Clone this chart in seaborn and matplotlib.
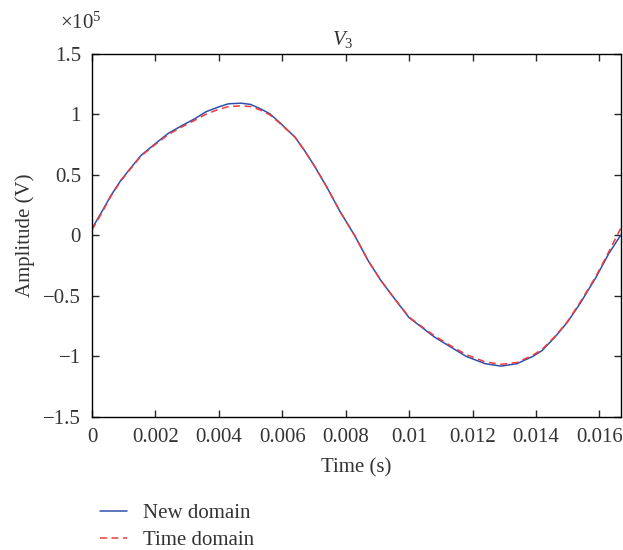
import numpy as np
import pandas as pd
import seaborn as sns
import matplotlib.pyplot as plt
from matplotlib.ticker import FuncFormatter, MultipleLocator

# values (time in s, amplitude in units of 1e5 V)
t = [0.0, 0.0003, 0.0006, 0.0009, 0.00125, 0.00155, 0.002, 0.0024, 0.0028, 0.00325,
     0.0036, 0.004, 0.0043, 0.0047, 0.005, 0.0053, 0.0056, 0.0059, 0.0064, 0.0067,
     0.007, 0.0074, 0.0078, 0.0083, 0.0087, 0.0091, 0.0095, 0.01, 0.0103, 0.0108,
     0.0113, 0.0118, 0.0124, 0.0129, 0.0134, 0.0139, 0.0142, 0.0146, 0.015, 0.0154,
     0.0159, 0.0163, 0.01667]
v_new = [0.055, 0.19, 0.33, 0.45, 0.565, 0.66, 0.757, 0.84, 0.9, 0.963,
         1.02, 1.06, 1.085, 1.09, 1.08, 1.045, 1.004, 0.935, 0.81, 0.7,
         0.578, 0.4, 0.206, -0.01, -0.206, -0.37, -0.51, -0.68, -0.74, -0.84,
         -0.92, -1.0, -1.06, -1.08, -1.06, -1.0, -0.95, -0.84, -0.715, -0.56,
         -0.344, -0.15, 0.0]
v_time = [0.045, 0.18, 0.325, 0.445, 0.56, 0.655, 0.75, 0.83, 0.89, 0.95,
          1.0, 1.04, 1.062, 1.068, 1.062, 1.035, 0.995, 0.93, 0.81, 0.7,
          0.578, 0.4, 0.206, -0.01, -0.206, -0.37, -0.51, -0.675, -0.735, -0.83,
          -0.91, -0.985, -1.045, -1.065, -1.05, -0.99, -0.94, -0.835, -0.71, -0.55,
          -0.335, -0.135, 0.055]

scale = 1e5
df = pd.DataFrame({
    "t": t * 2,
    "v": np.concatenate([v_new, v_time]) * scale,
    "series": ["New domain"] * len(t) + ["Time domain"] * len(t),
})

sns.set_style("ticks")
plt.rcParams['font.family'] = ['Liberation Serif', 'DejaVu Serif']
plt.rcParams['mathtext.fontset'] = 'custom'
plt.rcParams['mathtext.it'] = 'Liberation Serif:italic'
plt.rcParams['mathtext.rm'] = 'Liberation Serif'
txt = '#333333'
fs = 15

fig = plt.figure(figsize=(6.23, 5.5), dpi=100)
ax = fig.add_axes([0.1477, 0.2418, 0.8483, 0.6609])

sns.lineplot(data=df, x="t", y="v", hue="series", style="series",
             palette=['#2f4fad', '#f23a3a'], dashes=[(None, None), (4.5, 3)],
             lw=1.1, ax=ax, legend=False, sort=False)

ax.set_xlim(0, 1 / 60)
ax.set_ylim(-1.5e5, 1.5e5)
ax.xaxis.set_major_locator(MultipleLocator(0.002))
ax.yaxis.set_major_locator(MultipleLocator(0.5e5))
ax.xaxis.set_major_formatter(FuncFormatter(lambda x, p: ('%g' % round(x, 6)).replace('-', '\u2212')))
ax.yaxis.set_major_formatter(FuncFormatter(lambda y, p: ('%g' % round(y / scale, 3)).replace('-', '\u2212')))

ax.tick_params(direction='in', top=True, right=True, length=5, width=1,
               labelsize=fs, labelcolor=txt, pad=8)
for s in ax.spines.values():
    s.set_linewidth(1)
    s.set_color('black')

ax.set_xlabel('Time (s)', fontsize=fs, color=txt, labelpad=8)
ax.set_ylabel('Amplitude (V)', fontsize=fs, color=txt, labelpad=6)
ax.set_title('$V_3$', fontsize=fs, color=txt, x=0.475, pad=6)
fig.text(0.096, 0.947, '$\\times 10^5$', fontsize=fs, color=txt, ha='left', va='baseline')

fig.legend(handles=ax.lines[:2], labels=['New domain', 'Time domain'],
           loc='upper left', bbox_to_anchor=(0.147, 0.1), frameon=False,
           fontsize=fs, handlelength=1.3, handletextpad=0.75, labelspacing=0.35,
           borderaxespad=0, labelcolor=txt)

fig.savefig('out.png', dpi=100)
